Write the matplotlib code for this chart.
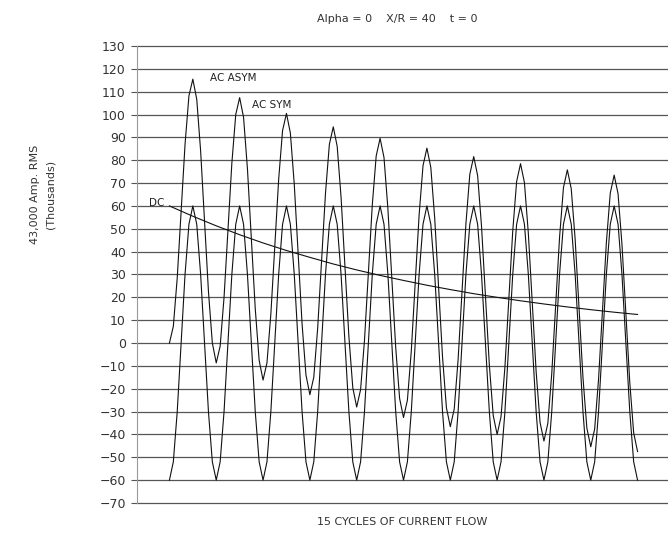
import matplotlib
matplotlib.use('Agg')
import matplotlib.pyplot as plt

# =========================
# data (time in cycles, current in kA)
# =========================

# 12 samples per cycle, 10 cycles + end point
t_ac = [i / 12 for i in range(121)]

ac_sym = [
    -60, -52, -30, 0, 30, 52, 60, 52, 30, 0, -30, -52,
    -60, -52, -30, 0, 30, 52, 60, 52, 30, 0, -30, -52,
    -60, -52, -30, 0, 30, 52, 60, 52, 30, 0, -30, -52,
    -60, -52, -30, 0, 30, 52, 60, 52, 30, 0, -30, -52,
    -60, -52, -30, 0, 30, 52, 60, 52, 30, 0, -30, -52,
    -60, -52, -30, 0, 30, 52, 60, 52, 30, 0, -30, -52,
    -60, -52, -30, 0, 30, 52, 60, 52, 30, 0, -30, -52,
    -60, -52, -30, 0, 30, 52, 60, 52, 30, 0, -30, -52,
    -60, -52, -30, 0, 30, 52, 60, 52, 30, 0, -30, -52,
    -60, -52, -30, 0, 30, 52, 60, 52, 30, 0, -30, -52,
    -60,
]

ac_asym = [
    0.0, 7.3, 28.5, 57.7, 86.9, 108.2, 115.5, 106.7, 84.0, 53.3, 22.6, 0.0,
    -8.7, -1.4, 20.0, 49.3, 78.7, 100.0, 107.4, 98.8, 76.2, 45.6, 15.0, -7.6,
    -16.2, -8.7, 12.7, 42.1, 71.6, 93.0, 100.5, 91.9, 69.5, 39.0, 8.4, -14.0,
    -22.6, -15.0, 6.5, 36.0, 65.5, 87.0, 94.6, 86.1, 63.7, 33.3, 2.9, -19.5,
    -28.0, -20.4, 1.2, 30.8, 60.4, 81.9, 89.6, 81.2, 58.8, 28.5, -1.9, -24.2,
    -32.6, -25.0, -3.4, 26.3, 56.0, 77.6, 85.3, 76.9, 54.6, 24.3, -6.0, -28.3,
    -36.6, -28.9, -7.2, 22.5, 52.2, 73.9, 81.6, 73.3, 51.1, 20.8, -9.5, -31.7,
    -40.0, -32.2, -10.5, 19.2, 49.0, 70.7, 78.5, 70.2, 48.0, 17.8, -12.5, -34.7,
    -42.9, -35.1, -13.4, 16.4, 46.2, 68.0, 75.8, 67.5, 45.4, 15.2, -15.0, -37.2,
    -45.4, -37.6, -15.8, 14.0, 43.9, 65.6, 73.5, 65.3, 43.2, 13.0, -17.2, -39.3,
    -47.5,
]

# DC offset, every half cycle
t_dc = [i / 2 for i in range(21)]
dc = [60.0, 55.5, 51.3, 47.4, 43.8, 40.5, 37.5, 34.6, 32.0, 29.6, 27.4,
      25.3, 23.4, 21.6, 20.0, 18.5, 17.1, 15.8, 14.6, 13.5, 12.5]

y_ticks = list(range(-70, 131, 10))

# =========================
# plot
# =========================

fig = plt.figure(figsize=(6.68, 5.33), dpi=100)
ax = fig.add_axes([0.205, 0.0563, 0.795, 0.8574])

# horizontal grid, incl. the 130 and -70 edges
for v in y_ticks:
    ax.axhline(v, color='#555555', linewidth=0.9, zorder=1, clip_on=False)

line_kw = dict(color='#111111', linewidth=0.8, zorder=3)
ax.plot(t_ac, ac_asym, **line_kw)
ax.plot(t_ac, ac_sym, **line_kw)
ax.plot(t_dc, dc, **line_kw)

ax.text(0.87, 116, 'AC ASYM', fontsize=7.5, color='#222222', va='center')
ax.text(1.76, 104, 'AC SYM', fontsize=7.5, color='#222222', va='center')
ax.text(-0.44, 61.5, 'DC', fontsize=7.5, color='#222222', va='center')

ax.set_xlim(-0.694, 10.65)
ax.set_ylim(-70, 130)
ax.set_yticks(y_ticks)
ax.set_xticks([])

for side in ['top', 'right', 'bottom']:
    ax.spines[side].set_visible(False)
ax.spines['left'].set_color('#999999')
ax.spines['left'].set_linewidth(0.8)

ax.tick_params(axis='y', length=4, width=0.8, color='#555555',
               labelsize=9, labelcolor='#333333', pad=4)

ax.set_xlabel('15 CYCLES OF CURRENT FLOW', fontsize=8, color='#333333',
              labelpad=10)
fig.text(0.595, 0.965, 'Alpha = 0    X/R = 40    t = 0', ha='center',
         va='center', fontsize=8, color='#333333')

fig.text(0.052, 0.635, '43,000 Amp. RMS', rotation=90, ha='center',
         va='center', fontsize=8, color='#333333')
fig.text(0.075, 0.635, '(Thousands)', rotation=90, ha='center',
         va='center', fontsize=8, color='#333333')

fig.savefig('out.png', dpi=100)
